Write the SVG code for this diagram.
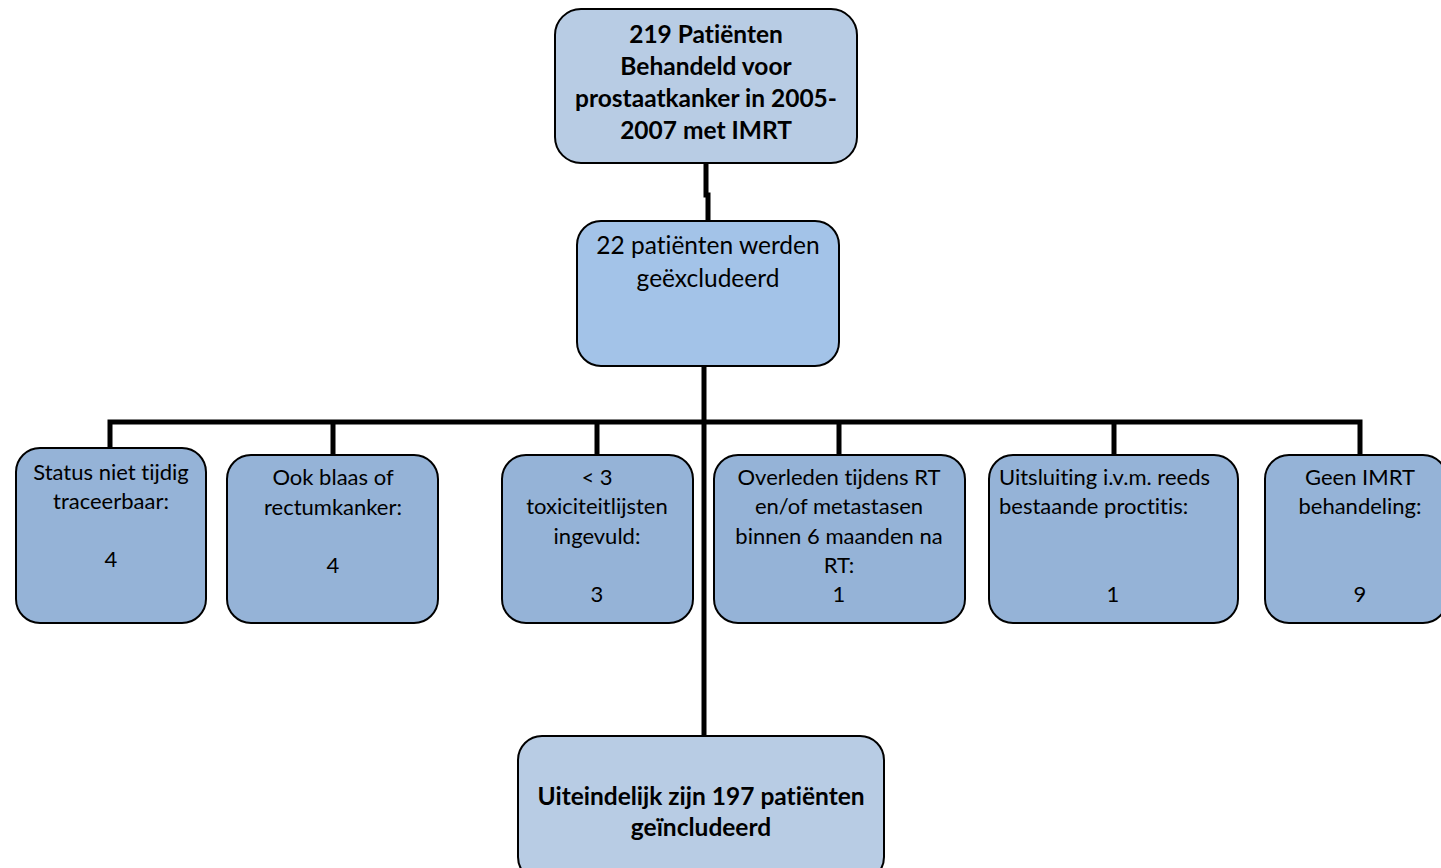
<svg xmlns="http://www.w3.org/2000/svg" width="1441" height="868" viewBox="0 0 1441 868">
<style>
.box{stroke:#000;stroke-width:2}
.a{fill:#b8cce4}
.b{fill:#a3c3e8}
.c{fill:#95b3d7}
text{font-family:"Lato","Liberation Sans",sans-serif;font-size:22px;fill:#000;text-anchor:middle;font-variant-ligatures:none;font-feature-settings:"liga" 0,"dlig" 0}
.bold{font-weight:bold;font-size:24.5px}
.big{font-size:24.5px}
.st{text-anchor:start}
.con{stroke:#000;stroke-width:5;fill:none}
</style>
<rect width="1441" height="868" fill="#fff"/>
<g id="connectors">
<path class="con" d="M706,163 V195 H708 V221"/>
<path class="con" d="M704,366 V737"/>
<path class="con" d="M110,448 V422 H1360 V455"/>
<path class="con" d="M333,422 V455 M597,422 V455 M839,422 V455 M1114,422 V455"/>
</g>
<g id="n_top">
<rect class="box a" x="555" y="9" width="302" height="154" rx="26"/>
<text class="bold" x="706" y="43">219 Patiënten</text>
<text class="bold" x="706" y="75">Behandeld voor</text>
<text class="bold" x="706" y="107">prostaatkanker in 2005-</text>
<text class="bold" x="706" y="139">2007 met IMRT</text>
</g>
<g id="n_excl">
<rect class="box b" x="577" y="221" width="262" height="145" rx="24"/>
<text class="big" x="708" y="254">22 patiënten werden</text>
<text class="big" x="708" y="287">geëxcludeerd</text>
</g>
<g id="n1">
<rect class="box c" x="16" y="448" width="190" height="175" rx="24"/>
<text x="111" y="480">Status niet tijdig</text>
<text x="111" y="509">traceerbaar:</text>
<text x="111" y="567">4</text>
</g>
<g id="n2">
<rect class="box c" x="227" y="455" width="211" height="168" rx="24"/>
<text x="333" y="485">Ook blaas of</text>
<text x="333" y="515">rectumkanker:</text>
<text x="333" y="573">4</text>
</g>
<g id="n3">
<rect class="box c" x="502" y="455" width="191" height="168" rx="24"/>
<text x="597" y="485">&lt; 3</text>
<text x="597" y="514">toxiciteitlijsten</text>
<text x="597" y="544">ingevuld:</text>
<text x="597" y="602">3</text>
</g>
<g id="n4">
<rect class="box c" x="714" y="455" width="251" height="168" rx="24"/>
<text x="839" y="485">Overleden tijdens RT</text>
<text x="839" y="514">en/of metastasen</text>
<text x="839" y="544">binnen 6 maanden na</text>
<text x="839" y="573">RT:</text>
<text x="839" y="602">1</text>
</g>
<g id="n5">
<rect class="box c" x="989" y="455" width="249" height="168" rx="24"/>
<text class="st" x="999" y="485">Uitsluiting i.v.m. reeds</text>
<text class="st" x="999" y="514">bestaande proctitis:</text>
<text x="1113" y="602">1</text>
</g>
<g id="n6">
<rect class="box c" x="1265" y="455" width="182" height="168" rx="24"/>
<text x="1360" y="485">Geen IMRT</text>
<text x="1360" y="514">behandeling:</text>
<text x="1360" y="602">9</text>
</g>
<g id="n_final">
<rect class="box a" x="518" y="736" width="366" height="145" rx="24"/>
<text class="bold" x="701" y="805">Uiteindelijk zijn 197 patiënten</text>
<text class="bold" x="701" y="836">geïncludeerd</text>
</g>
</svg>
